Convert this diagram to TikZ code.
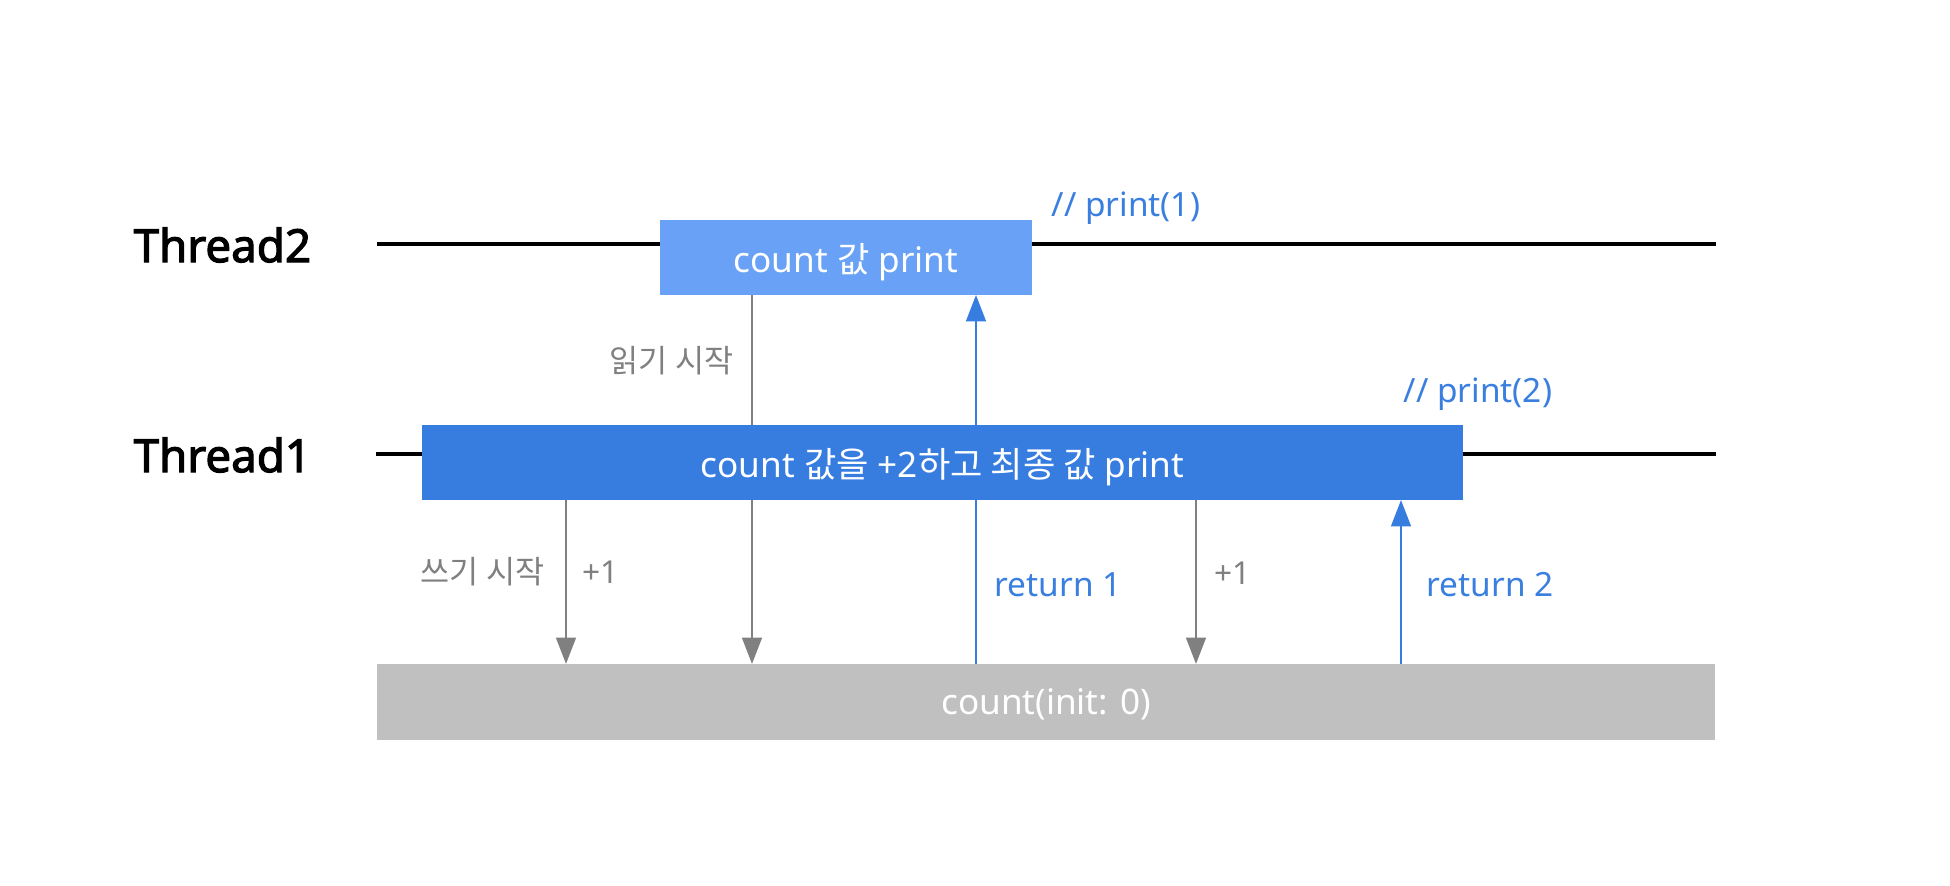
\documentclass[tikz,border=0pt]{standalone}
\usepackage{fontspec}
\setmainfont{Noto Sans}
\newfontfamily\namefont{Noto Sans}[FakeBold=2.5]
\newfontfamily\kr{Noto Sans CJK KR}
\usetikzlibrary{arrows.meta}
\usepackage{xcolor}
\definecolor{lightblue}{HTML}{68A1F5}
\definecolor{darkblue}{HTML}{377DE0}
\definecolor{textblue}{HTML}{3A7FE0}
\definecolor{midgray}{HTML}{808080}
\definecolor{boxgray}{HTML}{C0C0C0}

\begin{document}
\begin{tikzpicture}[x=0.01cm, y=-0.01cm]
        % 스타일 정의
        \tikzstyle{tbox}=[rectangle, inner sep=0pt, text depth=0pt, text=white, font=\fontsize{10}{12}\selectfont]
        \tikzstyle{tname}=[anchor=west, inner sep=0pt, font=\fontsize{13}{15}\namefont]
        \tikzstyle{glabel}=[inner sep=0pt, text=midgray, font=\fontsize{9}{11}\selectfont]
        \tikzstyle{blabel}=[inner sep=0pt, text=textblue, font=\fontsize{9.5}{11}\selectfont]
        \tikzstyle{garrow}=[draw=midgray, line width=0.7pt, -{Triangle[length=7.5pt, width=5.6pt]}]
        \tikzstyle{barrow}=[draw=darkblue, line width=0.7pt, -{Triangle[length=7.5pt, width=5.6pt]}]
        \useasboundingbox (0,0) rectangle (1950,886);

        % 스레드 이름과 타임라인
        \node[tname] (t2) at (133,245) {Thread2};
        \node[tname] (t1) at (133,455) {Thread1};
        \coordinate (t2s) at (377,244);
        \coordinate (t2e) at (1716,244);
        \coordinate (t1s) at (376,454);
        \coordinate (t1e) at (1716,454);
        \draw[line width=1pt] (t2s) -- (t2e);
        \draw[line width=1pt] (t1s) -- (t1e);

        % 메모리 위치 (화살표 끝점)
        \coordinate (m1) at (566,664);
        \coordinate (m2) at (752,664);
        \coordinate (m3) at (976,664);
        \coordinate (m4) at (1196,664);
        \coordinate (m5) at (1401,664);

        % 화살표 (상자 뒤에 그림)
        \draw[garrow] (752,295) -- (m2);
        \draw[barrow] (m3) -- (976,295);
        \draw[garrow] (566,500) -- (m1);
        \draw[garrow] (1196,500) -- (m4);
        \draw[barrow] (m5) -- (1401,500);

        % 상자
        \node[tbox, fill=lightblue, minimum width=3.71cm, minimum height=0.75cm] (read) at (846,257.5) {count {\kr 값} print};
        \node[tbox, fill=darkblue, minimum width=10.40cm, minimum height=0.75cm] (write) at (942.5,462.5) {count {\kr 값을} +2{\kr 하고 최종 값} print};
        \node[tbox, fill=boxgray, minimum width=13.38cm, minimum height=0.76cm] (count) at (1046,702) {count(init: 0)};

        % 라벨
        \node[blabel, anchor=west] (p1) at (1051,208) {// print(1)};
        \node[blabel, anchor=west] (p2) at (1403,394) {// print(2)};
        \node[glabel, anchor=east] (rd) at (734,361) {\kr 읽기 시작};
        \node[glabel, anchor=east] (wr) at (545,572) {\kr 쓰기 시작};
        \node[glabel, anchor=west] (inc1) at (582,572) {+1};
        \node[glabel, anchor=west] (inc2) at (1214,573) {+1};
        \node[blabel, anchor=west] (r1) at (994,585) {return 1};
        \node[blabel, anchor=west] (r2) at (1426,585) {return 2};
    \end{tikzpicture}
\end{document}
